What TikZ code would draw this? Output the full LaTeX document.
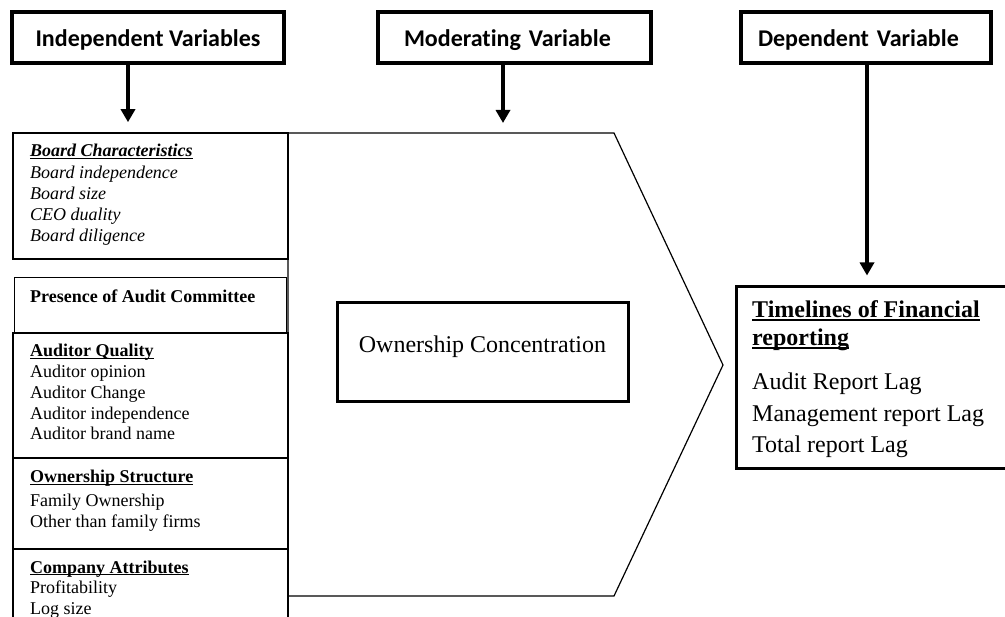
\documentclass[tikz,border=0pt]{standalone}
\usepackage{fontspec}
\setmainfont{Liberation Serif}
\newfontfamily\hdrfont[Ligatures=NoCommon]{Carlito}
\usetikzlibrary{arrows.meta}
\newcommand{\myul}[1]{\setbox0\hbox{#1}\rlap{\rule[-0.13em]{\wd0}{0.07em}}\box0}
\begin{document}
\begin{tikzpicture}[x=1pt,y=-1pt,
  hdr/.style={draw, line width=3.3pt, minimum height=51pt, inner ysep=0pt,
    text height=25pt, text depth=6pt, font=\hdrfont\bfseries\fontsize{24}{28}\selectfont},
  arr/.style={line width=4pt, -{Triangle[width=14pt,length=13pt]}, shorten >=10pt},
  col/.style={draw, inner sep=0pt, minimum width=275pt},
  ltxt/.style={anchor=base west, inner sep=0pt, align=left},
  bigtxt/.style={font=\fontsize{24}{28}\selectfont}
]
\useasboundingbox[fill=white] (0,0) rectangle (1005,617);

% headers
\node[hdr, minimum width=272pt, inner xsep=0pt] (indep) at (148,37.5) {Independent Variables};
\node[hdr, inner xsep=26pt, text width=221pt, align=left] (mod) at (514.5,37.5) {Moderating Variable};
\node[hdr, inner xsep=17pt, text width=216pt, align=left] (dep) at (866,37.5) {Dependent Variable};

% pentagon (moderating area)
\coordinate (p1) at (288,133);
\coordinate (p2) at (614,133);
\coordinate (p3) at (723,365);
\coordinate (p4) at (614,596);
\coordinate (p5) at (288,596);
\draw[line width=1.2pt] (p1) -- (p2) -- (p3) -- (p4) -- (p5) -- cycle;

% left column boxes
\node[col, line width=1.6pt, minimum height=126pt] (bc) at (150.5,196) {};
\node[col, line width=1pt, minimum width=272pt, minimum height=55pt] (pr) at (150,305.5) {};
\node[col, line width=1.8pt, minimum height=125pt] (aq) at (150.5,395.5) {};
\node[col, line width=1.2pt, minimum height=91pt] (os) at (150.5,503.5) {};
\node[col, line width=1.2pt, minimum height=91pt] (ca) at (150.5,594.5) {};

% (base anchor = baseline of the last line)
\node[ltxt, font=\itshape\fontsize{18}{21.2}\selectfont] (bct) at (30,241.8)
  {\myul{\textbf{Board Characteristics}}\\Board independence\\Board size\\CEO duality\\Board diligence};
\node[ltxt, font=\bfseries\fontsize{18}{21}\selectfont] (prt) at (30,303) {Presence of Audit Committee};
\node[ltxt, font=\fontsize{18}{20.75}\selectfont] (aqt) at (30,440)
  {\myul{\textbf{Auditor Quality}}\\Auditor opinion\\Auditor Change\\Auditor independence\\Auditor brand name};
\node[ltxt, font=\fontsize{18}{21.5}\selectfont] (ost) at (30,528)
  {\myul{\textbf{Ownership Structure}}\\[2pt]Family Ownership\\Other than family firms};
\node[ltxt, font=\fontsize{18}{20.5}\selectfont] (cat) at (30,614)
  {\myul{\textbf{Company Attributes}}\\Profitability\\Log size};

% moderating variable box
\node[draw, line width=3pt, minimum width=291pt, minimum height=99pt,
  text height=12pt, text depth=12pt, bigtxt] (oc) at (482.5,352.5) {Ownership Concentration};

% dependent box
\node[draw, line width=3pt, minimum width=274pt, minimum height=182pt] (dbox) at (873,378) {};
\node[ltxt, bigtxt] (dt) at (752,453)
  {\myul{\textbf{Timelines of Financial}}\\\myul{\textbf{reporting}}\\[16.5pt]Audit Report Lag\\[3.5pt]Management report Lag\\[3.5pt]Total report Lag};

% arrows
\draw[arr] ([xshift=-20pt]indep.south) -- ([xshift=-20pt]indep.south |- bc.north);
\draw[arr] ([xshift=-11.5pt]mod.south) -- ([xshift=-11.5pt]mod.south |- p1);
\draw[arr] ([xshift=1pt]dep.south) -- ([xshift=1pt]dep.south |- dbox.north);
\end{tikzpicture}
\end{document}
